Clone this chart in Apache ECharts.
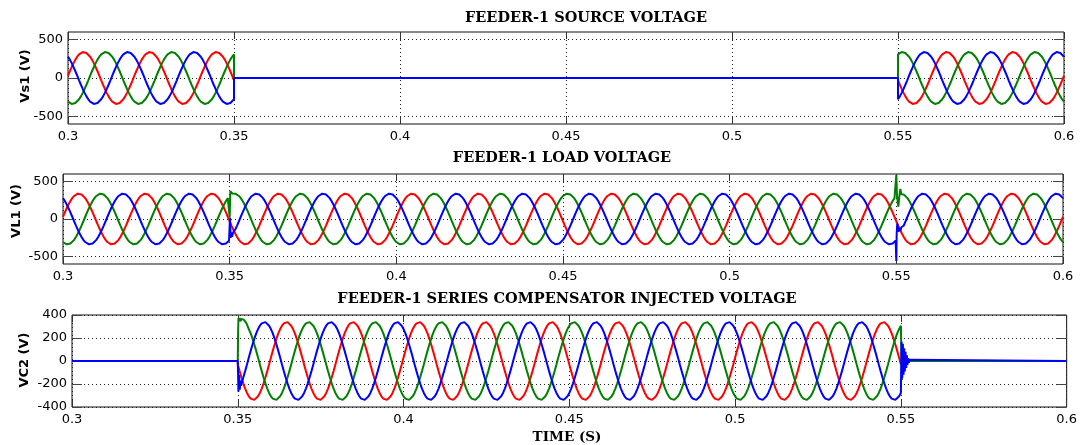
<!DOCTYPE html>
<html>
<head>
<meta charset="utf-8">
<title>Feeder-1 voltages</title>
<script src="https://cdn.jsdelivr.net/npm/echarts@6/dist/echarts.min.js"></script>
<style>
  html, body { margin: 0; padding: 0; background: #ffffff; }
  #chart { width: 1080px; height: 445px; }
</style>
</head>
<body>
<div id="chart"></div>
<script>
// ---- time base (s) ----
const T_START = 0.3;
const T_END = 0.6;
const T_STEP = 0.05;
const PERIOD = 0.02;              // 50 Hz supply
const FAULT_START = 0.35;
const FAULT_END = 0.55;

// ---- one 20 ms cycle of the phase-a voltage (V), 10 degree steps from 5 degrees ----
const CYCLE_V = [
  30, 88, 143, 194, 240, 278, 307, 327, 338, 338, 327, 307, 278, 240, 194, 143, 88, 30,
  -30, -88, -143, -194, -240, -278, -307, -327, -338, -338, -327, -307, -278, -240, -194, -143, -88, -30
];
// sample offsets inside the cycle: phase b lags by 120 deg, phase c leads by 120 deg
const PHASE_OFFSET = { a: 0, b: 24, c: 12 };

// ---- switching transients [t (s), v (V)] ----
const VL1_B_AT_035 = [[0.3498, 298], [0.3500, 20], [0.3502, 370], [0.3504, 345], [0.3506, 368],
  [0.3508, 340], [0.3511, 355], [0.3514, 335], [0.3518, 336]];
const VL1_C_AT_035 = [[0.3498, -289], [0.3500, -298], [0.3501, 15], [0.3503, -250], [0.3505, -180],
  [0.3507, -235], [0.3510, -185], [0.3513, -175], [0.3518, -130]];
const VL1_B_AT_055 = [[0.5498, 298], [0.5500, 590], [0.5502, 300], [0.5504, 240], [0.5506, 165],
  [0.5509, 300], [0.5512, 400], [0.5515, 330], [0.5518, 335], [0.5522, 328]];
const VL1_C_AT_055 = [[0.5498, -289], [0.5500, -560], [0.5501, -200], [0.5503, -60], [0.5506, -170],
  [0.5509, -120], [0.5512, -160], [0.5515, -110], [0.5519, -120], [0.5522, -90]];

const VC2_B_AT_035 = [[0.3500, 0], [0.3501, 250], [0.3502, 371], [0.3504, 350], [0.3506, 375],
  [0.3508, 345], [0.3511, 365], [0.3514, 350], [0.3518, 360], [0.3522, 345], [0.3526, 330], [0.3530, 300]];
const VC2_C_AT_035 = [[0.3500, 0], [0.3502, -267], [0.3504, -120], [0.3506, -250], [0.3508, -170],
  [0.3510, -215], [0.3513, -178]];
const VC2_B_AT_055 = [[0.5503, -165], [0.5506, 0]];
const VC2_C_AT_055 = [[0.5502, 168], [0.5504, -150], [0.5506, 150], [0.5508, -120], [0.5510, 110],
  [0.5512, -90], [0.5514, 80], [0.5516, -60], [0.5518, 50], [0.5520, -35], [0.5522, 25],
  [0.5524, -15], [0.5526, 10], [0.5528, 0]];

// ---- text ----
const TITLES = ['FEEDER-1 SOURCE VOLTAGE', 'FEEDER-1 LOAD VOLTAGE', 'FEEDER-1 SERIES COMPENSATOR INJECTED VOLTAGE'];
const Y_NAMES = ['Vs1 (V)', 'VL1 (V)', 'VC2 (V)'];
const X_NAME = 'TIME (S)';
const Y_TICKS_FEEDER = [-500, 0, 500];
const Y_TICKS_COMP = [-400, -200, 0, 200, 400];

// ---- helpers ----
const STEPS = CYCLE_V.length;
const DT = PERIOD / STEPS;
const tAt = k => Math.round((T_START + k * DT) * 1e6) / 1e6;
const kOf = t => Math.round((t - T_START) / DT);

function wave(offset, tFrom, tTo) {
  const out = [];
  for (let k = kOf(tFrom); k <= kOf(tTo); k++) out.push([tAt(k), CYCLE_V[(k + offset) % STEPS]]);
  return out;
}
// replace the samples covered by a transient with the transient points
function withTransient(points, ev) {
  const a = ev[0][0], b = ev[ev.length - 1][0];
  return points.filter(p => p[0] < a || p[0] > b).concat(ev).sort((p, q) => p[0] - q[0]);
}

// ---- Vs1: supply interrupted between 0.35 s and 0.55 s ----
function vs1(offset) {
  return wave(offset, T_START, FAULT_START)
    .concat([[FAULT_START, 0], [FAULT_END, 0]], wave(offset, FAULT_END, T_END));
}
const VS1 = { a: vs1(PHASE_OFFSET.a), b: vs1(PHASE_OFFSET.b), c: vs1(PHASE_OFFSET.c) };

// ---- VL1: load voltage held by the compensator ----
const VL1 = {
  a: wave(PHASE_OFFSET.a, T_START, T_END),
  b: withTransient(withTransient(wave(PHASE_OFFSET.b, T_START, T_END), VL1_B_AT_035), VL1_B_AT_055),
  c: withTransient(withTransient(wave(PHASE_OFFSET.c, T_START, T_END), VL1_C_AT_035), VL1_C_AT_055)
};

// ---- VC2: injected voltage during the interruption ----
const VC2 = {
  a: [[T_START, 0], [FAULT_START, 0]].concat(wave(PHASE_OFFSET.a, FAULT_START, FAULT_END), [[FAULT_END, 0], [T_END, 0]]),
  b: [[T_START, 0]].concat(withTransient(wave(PHASE_OFFSET.b, FAULT_START, FAULT_END), VC2_B_AT_035), VC2_B_AT_055, [[T_END, 0]]),
  c: [[T_START, 0]].concat(withTransient(wave(PHASE_OFFSET.c, FAULT_START, FAULT_END), VC2_C_AT_035), VC2_C_AT_055, [[T_END, 0]])
};

// ---- layout ----
const GRIDS = [
  { left: 68, top: 32, width: 996, height: 92 },
  { left: 63, top: 174, width: 1000, height: 90 },
  { left: 72, top: 315, width: 996, height: 92 }
];
const Y_RANGES = [
  { min: -600, max: 600, ticks: Y_TICKS_FEEDER },
  { min: -600, max: 600, ticks: Y_TICKS_FEEDER },
  { min: -400, max: 400, ticks: Y_TICKS_COMP }
];
const COLORS = { a: '#ff0000', b: '#008000', c: '#0000ff' };
const TICK_FONT = { color: '#000', fontFamily: 'DejaVu Sans', fontSize: 13 };
const DOTTED = { color: '#222', width: 1, type: [1, 3] };

const xAxes = [], yAxes = [], series = [];
GRIDS.forEach((g, i) => {
  const base = { type: 'value', gridIndex: i, min: T_START, max: T_END, interval: T_STEP };
  xAxes.push(Object.assign({}, base, {
    position: 'bottom',
    axisLine: { show: false, onZero: false },
    axisTick: { show: true, inside: true, length: 7, lineStyle: { color: '#333' } },
    axisLabel: Object.assign({ margin: 6, formatter: v => String(+v.toFixed(2)) }, TICK_FONT),
    splitLine: { show: true, lineStyle: DOTTED }
  }));
  const r = Y_RANGES[i];
  yAxes.push({
    type: 'value', gridIndex: i, min: r.min, max: r.max, position: 'left',
    axisLine: { show: false, onZero: false },
    axisTick: { show: true, inside: true, length: 10, customValues: r.ticks, lineStyle: { color: '#444' } },
    axisLabel: Object.assign({ margin: 5, customValues: r.ticks }, TICK_FONT),
    splitLine: { show: true, lineStyle: DOTTED }
  });
});
// mirrored ticks on the top and right edges of each box
GRIDS.forEach((g, i) => {
  xAxes.push({
    type: 'value', gridIndex: i, min: T_START, max: T_END, interval: T_STEP, position: 'top',
    axisLine: { show: false, onZero: false },
    axisTick: { show: true, inside: true, length: 7, lineStyle: { color: '#333' } },
    axisLabel: { show: false }, splitLine: { show: false }
  });
  const r = Y_RANGES[i];
  yAxes.push({
    type: 'value', gridIndex: i, min: r.min, max: r.max, position: 'right',
    axisLine: { show: false, onZero: false },
    axisTick: { show: true, inside: true, length: 10, customValues: r.ticks, lineStyle: { color: '#444' } },
    axisLabel: { show: false, customValues: r.ticks }, splitLine: { show: false }
  });
});

[VS1, VL1, VC2].forEach((set, i) => {
  ['a', 'b', 'c'].forEach(ph => {
    series.push({
      type: 'line', xAxisIndex: i, yAxisIndex: i, data: set[ph],
      showSymbol: false, symbol: 'none', clip: true, silent: true,
      lineStyle: { color: COLORS[ph], width: 2 }, z: 3
    });
  });
});

const TITLE_FONT = 'bold 14.5px "DejaVu Serif"';
const TITLE_POS = [[586, 18], [562, 158], [567, 299]];
const YNAME_POS = [[26, 76], [17, 211], [25, 360]];
const graphics = [];
TITLES.forEach((t, i) => graphics.push({
  type: 'text', x: TITLE_POS[i][0], y: TITLE_POS[i][1],
  style: { text: t, font: TITLE_FONT, fill: '#000', align: 'center', verticalAlign: 'middle' }
}));
Y_NAMES.forEach((t, i) => graphics.push({
  type: 'text', x: YNAME_POS[i][0], y: YNAME_POS[i][1], rotation: Math.PI / 2,
  style: { text: t, font: 'bold 13px "DejaVu Sans"', fill: '#000', align: 'center', verticalAlign: 'middle' }
}));
graphics.push({
  type: 'text', x: 567, y: 437,
  style: { text: X_NAME, font: 'bold 13.5px "DejaVu Serif"', fill: '#000', align: 'center', verticalAlign: 'middle' }
});

const chart = echarts.init(document.getElementById('chart'), null, { renderer: 'canvas' });
chart.setOption({
  animation: false,
  backgroundColor: '#ffffff',
  grid: GRIDS.map(g => Object.assign({ show: true, borderColor: '#111', borderWidth: 1, backgroundColor: '#fff', containLabel: false }, g)),
  xAxis: xAxes,
  yAxis: yAxes,
  series: series,
  graphic: graphics
});
</script>
</body>
</html>
